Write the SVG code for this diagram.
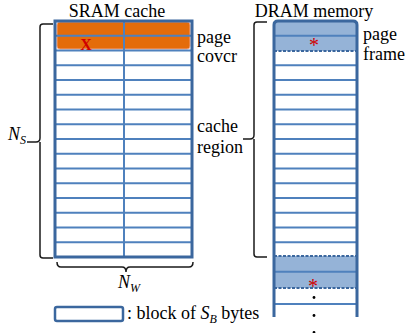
<svg xmlns="http://www.w3.org/2000/svg" width="405" height="333" viewBox="0 0 405 333">
<style>
.t{font-family:"Liberation Serif","Times New Roman",serif;font-size:18px;fill:#000}
.it{font-style:italic}
.sub{font-size:12px;font-style:italic}
.grid{stroke:#4F81BD;stroke-width:2;fill:none}
.frame{stroke:#3B679E;stroke-width:3;fill:none}
.dash{stroke:#3B679E;stroke-width:2;stroke-dasharray:3 1.5;fill:none}
.brace{stroke:#1a1a1a;stroke-width:1.5;fill:none}
.red{font-family:"Liberation Serif",serif;fill:#D00000}
</style>
<rect width="405" height="333" fill="#fff"/>

<g id="sram">
  <text class="t" x="117" y="17" text-anchor="middle">SRAM cache</text>
  <rect x="57" y="22" width="133" height="27" rx="3" fill="#E46C0A" stroke="#F0A080" stroke-width="1"/>
  <g class="grid">
    <path d="M55,35.75H192M55,50.5H192M55,65.25H192M55,80H192M55,94.75H192M55,109.5H192M55,124.25H192M55,139H192M55,153.75H192M55,168.5H192M55,183.25H192M55,198H192M55,212.75H192M55,227.5H192M55,242.25H192"/>
    <path d="M124,21V257"/>
  </g>
  <rect x="55" y="21" width="137" height="236" class="frame" stroke-width="2.5"/>
  <text class="red" x="86" y="49.5" font-size="16" font-weight="bold" text-anchor="middle">X</text>
</g>

<g id="dram">
  <text class="t" x="314" y="17" text-anchor="middle">DRAM memory</text>
  <path d="M274,51V25Q274,21 278,21H353Q357,21 357,25V51Z" fill="#95B3D7"/>
  <rect x="274" y="256" width="83" height="32" fill="#95B3D7"/>
  <g class="grid">
    <path d="M274,35.75H357M274,65.25H357M274,80H357M274,94.75H357M274,109.5H357M274,124.25H357M274,139H357M274,153.75H357M274,168.5H357M274,183.25H357M274,198H357M274,212.75H357M274,227.5H357M274,242.25H357M274,271.75H357M274,304H357"/>
  </g>
  <path class="dash" d="M274,51H357M274,256H357M274,288H357"/>
  <path class="frame" d="M274,317V25Q274,21 278,21H353Q357,21 357,25V317" stroke-width="3.5"/>
  <text class="red" x="314" y="52" font-size="20" text-anchor="middle">*</text>
  <text class="red" x="313" y="293" font-size="20" text-anchor="middle">*</text>
  <circle cx="314" cy="297.5" r="1.4" fill="#000"/>
  <circle cx="314" cy="315.5" r="1.4" fill="#000"/>
  <circle cx="314" cy="332.5" r="1.4" fill="#000"/>
</g>

<g id="labels">
  <text class="t" x="197" y="43">page</text>
  <text class="t" x="197" y="62">covcr</text>
  <text class="t" x="197" y="132">cache</text>
  <text class="t" x="197" y="153">region</text>
  <text class="t" x="363" y="40">page</text>
  <text class="t" x="363" y="60">frame</text>
  <text class="t it" x="8" y="140">N<tspan class="sub" dy="4">S</tspan></text>
  <text class="t it" x="118" y="288">N<tspan class="sub" dy="4">W</tspan></text>
</g>

<g id="connectors">
  <path class="brace" d="M53,24H43Q40,24 40,27V138Q40,142 36,142H27M40,142V255Q40,258 43,258H53"/>
  <path class="brace" d="M267,22H257Q254,22 254,25V135Q254,139 250,139H243M254,139V254Q254,257 257,257H267"/>
  <path class="brace" d="M57,262Q57,267 61,267H122Q126,267 126,272M126,272Q126,267 130,267H189Q193,267 193,262"/>
</g>

<g id="legend">
  <rect x="55" y="307" width="68" height="14" rx="2" fill="#fff" stroke="#3B679E" stroke-width="2.5"/>
  <text class="t" x="127" y="319">: block of <tspan class="it">S</tspan><tspan class="sub" dy="4">B</tspan><tspan dy="-4"> bytes</tspan></text>
</g>
</svg>
